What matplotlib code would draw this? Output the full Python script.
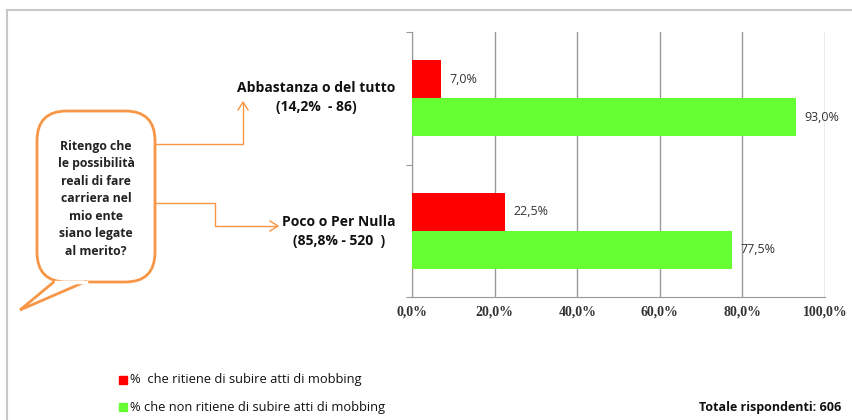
import matplotlib.pyplot as plt
from matplotlib.patches import FancyBboxPatch, Polygon, Rectangle
from matplotlib.lines import Line2D
from matplotlib.ticker import FixedLocator

# Dati
categorie = ["Abbastanza o del tutto", "Poco o Per Nulla"]
sottotitoli = ["(14,2%  - 86)", "(85,8% - 520  )"]
si_mobbing = [7.0, 22.5]
no_mobbing = [93.0, 77.5]
etichette_serie = ["%  che ritiene di subire atti di mobbing",
                   "% che non ritiene di subire atti di mobbing"]
colori = ["#ff0000", "#66ff33"]
tick_x = [0, 20, 40, 60, 80, 100]
domanda = "Ritengo che\nle possibilità\nreali di fare\ncarriera nel\nmio ente\nsiano legate\nal merito?"
totale = "Totale rispondenti: 606"

W, H = 852, 420
fig = plt.figure(figsize=(W / 100, H / 100), dpi=100)
sans = ["Open Sans", "DejaVu Sans"]


def fx(px):
    return px / W


def fy(py):
    return 1 - py / H


# cornice
fig.add_artist(Line2D([fx(7), fx(7)], [fy(10), fy(420)], color="#c8c8c8", lw=1.5))
fig.add_artist(Line2D([fx(7), fx(852)], [fy(10), fy(10)], color="#c8c8c8", lw=1.5))

ax = fig.add_axes([fx(412), fy(297), fx(825) - fx(412), (297 - 32) / H])
h = 0.285
centri = [1.5, 0.5]
for i, c in enumerate(centri):
    ax.barh(c + h / 2, si_mobbing[i], height=h, color=colori[0], zorder=3)
    ax.barh(c - h / 2, no_mobbing[i], height=h, color=colori[1], zorder=3)
    ax.text(si_mobbing[i] + 2.0, c + h / 2, f"{si_mobbing[i]:.1f}%".replace(".", ","),
            va="center", fontsize=9, color="#333333", family=sans)
    ax.text(no_mobbing[i] + 2.0, c - h / 2, f"{no_mobbing[i]:.1f}%".replace(".", ","),
            va="center", fontsize=9, color="#333333", family=sans)

ax.set_xlim(0, 100)
ax.set_ylim(0, 2)
ax.set_xticks(tick_x)
ax.set_xticklabels([f"{t:.1f}%".replace(".", ",") for t in tick_x],
                   family="Liberation Serif", fontsize=10, fontweight="bold", color="#333333")
ax.yaxis.set_major_locator(FixedLocator([0, 1, 2]))
ax.set_yticklabels([])
ax.tick_params(axis="y", length=4, color="#999999")
ax.tick_params(axis="x", length=0, pad=6)
ax.grid(axis="x", color="#999999", lw=1, zorder=0)
for s in ["top", "right"]:
    ax.spines[s].set_visible(False)
ax.spines["left"].set_color("#999999")
ax.spines["bottom"].set_color("#999999")

# etichette categorie
for nome, sub, ypx in zip(categorie, sottotitoli, [88, 222]):
    xc = 316 if ypx == 88 else 339
    fig.text(fx(xc), fy(ypx), nome, ha="center", va="center", fontsize=10,
             fontweight="bold", family=sans, color="#111111")
    fig.text(fx(xc), fy(ypx + 19), sub, ha="center", va="center", fontsize=10,
             fontweight="bold", family=sans, color="#111111")

# fumetto
arancio = "#f79646"
box = FancyBboxPatch((fx(37), fy(282)), fx(155) - fx(37), (282 - 111) / H,
                     boxstyle="round,pad=0,rounding_size=0.035",
                     transform=fig.transFigure, fc="white", ec=arancio, lw=2,
                     mutation_aspect=W / H)
fig.add_artist(box)
coda = Polygon([(fx(55), fy(281)), (fx(20), fy(310)), (fx(87), fy(281))],
               closed=False, transform=fig.transFigure, fill=False, ec=arancio, lw=2)
fig.add_artist(coda)
fig.add_artist(Line2D([fx(56), fx(86)], [fy(282), fy(282)], color="white", lw=2.5))
fig.text(fx(96), fy(199), domanda, ha="center", va="center", fontsize=8.8,
         fontweight="bold", family=sans, color="#222222", linespacing=1.45)

# frecce
fig.add_artist(Line2D([fx(155), fx(243), fx(243)], [fy(144), fy(144), fy(103)],
                      color=arancio, lw=1))
fig.add_artist(Line2D([fx(238), fx(243), fx(248)], [fy(110), fy(102), fy(110)],
                      color=arancio, lw=1))
fig.add_artist(Line2D([fx(155), fx(215), fx(215), fx(277)],
                      [fy(203), fy(203), fy(226), fy(226)], color=arancio, lw=1))
fig.add_artist(Line2D([fx(270), fx(278), fx(270)], [fy(221), fy(226), fy(231)],
                      color=arancio, lw=1))

# legenda
for col, lab, ypx in zip(colori, etichette_serie, [380, 407]):
    fig.add_artist(Rectangle((fx(119), fy(ypx + 4)), fx(8), 8 / H, color=col,
                             transform=fig.transFigure))
    fig.text(fx(130), fy(ypx), lab, ha="left", va="center", fontsize=9.3,
             family=sans, color="#111111")
fig.text(fx(841), fy(407), totale, ha="right", va="center", fontsize=9,
         fontweight="bold", family=sans, color="#111111")

fig.savefig("out.png", dpi=100)
